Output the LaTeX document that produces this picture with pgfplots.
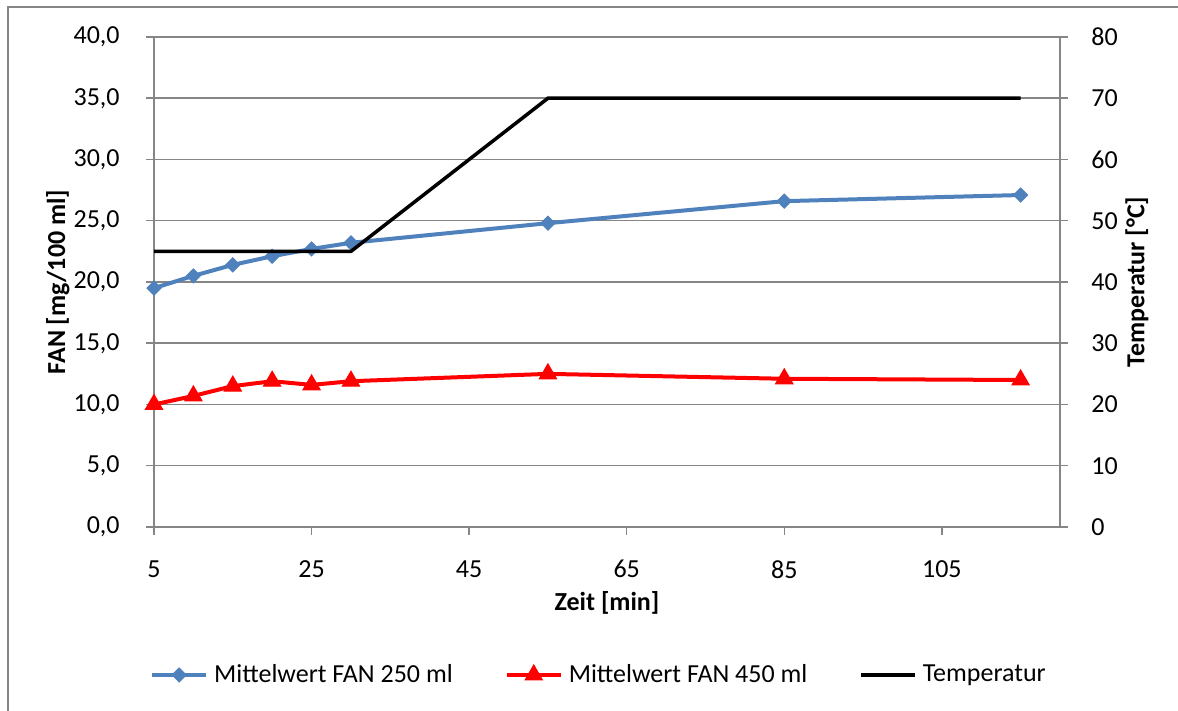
\documentclass[border=0pt]{standalone}
\usepackage{fontspec}
\setmainfont{Carlito}
\usepackage{pgfplots}
\pgfplotsset{compat=1.18}
\definecolor{fanblue}{HTML}{4F81BD}
\definecolor{fanred}{HTML}{FF0000}
\definecolor{axgray}{HTML}{868686}
\begin{document}
\fontsize{13}{15.6}\selectfont
\begin{tikzpicture}
\path[use as bounding box] (0,0) rectangle (589pt,355.5pt);
\draw[axgray, line width=0.75pt] (4pt,0) -- (4pt,352pt) -- (589pt,352pt);
\pgfplotsset{
  common/.style={
    at={(77pt,92pt)}, anchor=south west,
    scale only axis, width=453pt, height=245pt,
    xmin=5, xmax=120,
    axis line style={axgray, line width=0.75pt},
    tick style={axgray, line width=0.75pt},
    tick align=outside, major tick length=4pt,
    ticklabel style={font=\fontsize{13}{15.6}\selectfont, inner sep=0pt},
    /pgf/number format/assume math mode=true,
    label style={font=\fontsize{13}{15.6}\selectfont\bfseries},
  }
}
\begin{axis}[
  common,
  ymin=0, ymax=40,
  axis y line*=left, axis x line*=bottom,
  xtick={5,25,45,65,85,105},
  ytick={0,5,...,40},
  ymajorgrids, grid style={axgray, line width=0.75pt},
  yticklabel style={/pgf/number format/.cd, fixed, fixed zerofill, precision=1, use comma},
  yticklabel shift=13pt,
  xticklabel shift=12.5pt,
  xlabel={Zeit [min]},
  ylabel={FAN [mg/100 ml]},
  xlabel style={at={(axis description cs:0.5,-0.155)}, anchor=center},
  ylabel style={at={(axis description cs:-0.106,0.5)}, anchor=center},
  legend columns=3,
  legend style={draw=none, fill=none, at={(axis description cs:0.49,-0.302)}, anchor=center,
    font=\fontsize{13}{15.6}\selectfont,
    nodes={inner sep=0pt},
    /tikz/every odd column/.append style={column sep=3pt},
    /tikz/every even column/.append style={column sep=26pt}},
  legend image code/.code={\draw[mark repeat=2,mark phase=2] plot coordinates {(0pt,0pt) (13.5pt,0pt) (27pt,0pt)};},
]
\addplot[fanblue, line width=2pt, mark=diamond*, mark size=3.5pt,
  mark options={xscale=1.33, solid, fill=fanblue, draw=fanblue, line width=0.5pt}]
  coordinates {(5,19.5) (10,20.5) (15,21.4) (20,22.1) (25,22.7) (30,23.2) (55,24.8) (85,26.6) (115,27.1)};
\addlegendentry{Mittelwert FAN 250 ml}
\addplot[fanred, line width=2pt, mark=triangle*, mark size=5pt,
  mark options={solid, fill=fanred, draw=fanred, line width=0.5pt}]
  coordinates {(5,10.0) (10,10.7) (15,11.5) (20,11.9) (25,11.6) (30,11.9) (55,12.5) (85,12.1) (115,12.0)};
\addlegendentry{Mittelwert FAN 450 ml}
\addlegendimage{black, line width=1.75pt}
\addlegendentry{Temperatur}
\end{axis}
\begin{axis}[
  common,
  ymin=0, ymax=80,
  axis y line*=right, axis x line=none,
  ytick={0,10,...,80},
  yticklabel shift=11.5pt,
  ylabel={Temperatur [°C]},
  ylabel style={at={(axis description cs:1.085,0.5)}, anchor=center},
]
\addplot[black, line width=1.75pt] coordinates {(5,45) (10,45) (15,45) (20,45) (25,45) (30,45) (55,70) (85,70) (115,70)};
\end{axis}
\end{tikzpicture}
\end{document}
